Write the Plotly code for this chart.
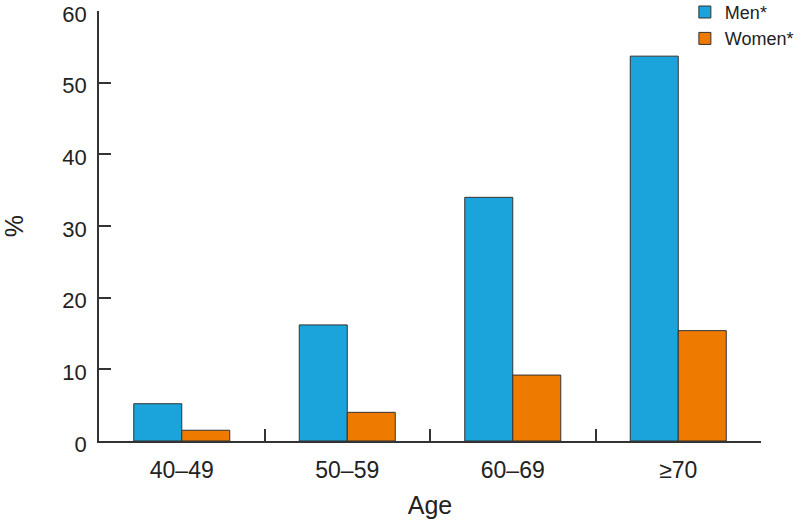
import plotly.graph_objects as go

categories = ["40–49", "50–59", "60–69", "≥70"]
men = [5.2, 16.2, 34.0, 53.7]
women = [1.5, 4.0, 9.2, 15.4]
y_ticks = [0, 10, 20, 30, 40, 50, 60]

FONT = "Liberation Sans, Arial, sans-serif"
LINE = "#333333"

fig = go.Figure()
fig.add_trace(go.Bar(name="Men*", x=categories, y=men,
                     marker=dict(color="#1ba3db", line=dict(color=LINE, width=1))))
fig.add_trace(go.Bar(name="Women*", x=categories, y=women,
                     marker=dict(color="#ee7b00", line=dict(color=LINE, width=1))))

fig.update_layout(
    width=798, height=527,
    margin=dict(l=99, r=37, t=11, b=86, autoexpand=False),
    paper_bgcolor="white", plot_bgcolor="white",
    barmode="group", bargap=0.42, bargroupgap=0,
    font=dict(family=FONT, color="#222222", size=23),
    showlegend=True,
    legend=dict(x=0.885, y=1.04, xanchor="left", yanchor="top",
                font=dict(size=18, family=FONT, color="#222222"),
                bgcolor="rgba(0,0,0,0)", itemwidth=30, tracegroupgap=0),
    xaxis=dict(
        showline=True, linecolor=LINE, linewidth=1.5,
        ticks="inside", ticklen=12, tickcolor=LINE, tickwidth=1.5,
        tickson="boundaries", showgrid=False, zeroline=False,
        tickfont=dict(size=23), ticklabelstandoff=8,
        title=dict(text="Age", font=dict(size=25), standoff=14),
        automargin=False,
    ),
    yaxis=dict(
        range=[0, 60], tickvals=y_ticks,
        showline=True, linecolor=LINE, linewidth=1.5,
        ticks="inside", ticklen=12, tickcolor=LINE, tickwidth=1.5,
        showgrid=False, zeroline=False,
        tickfont=dict(size=22), ticklabelstandoff=6,
        ticklabeloverflow="allow", ticklabelshift=3,
        title=dict(text="%", font=dict(size=25), standoff=40),
        automargin=False,
    ),
)

fig.write_html("out.html", config={"displayModeBar": False},
               post_script="document.body.style.margin='0';")
